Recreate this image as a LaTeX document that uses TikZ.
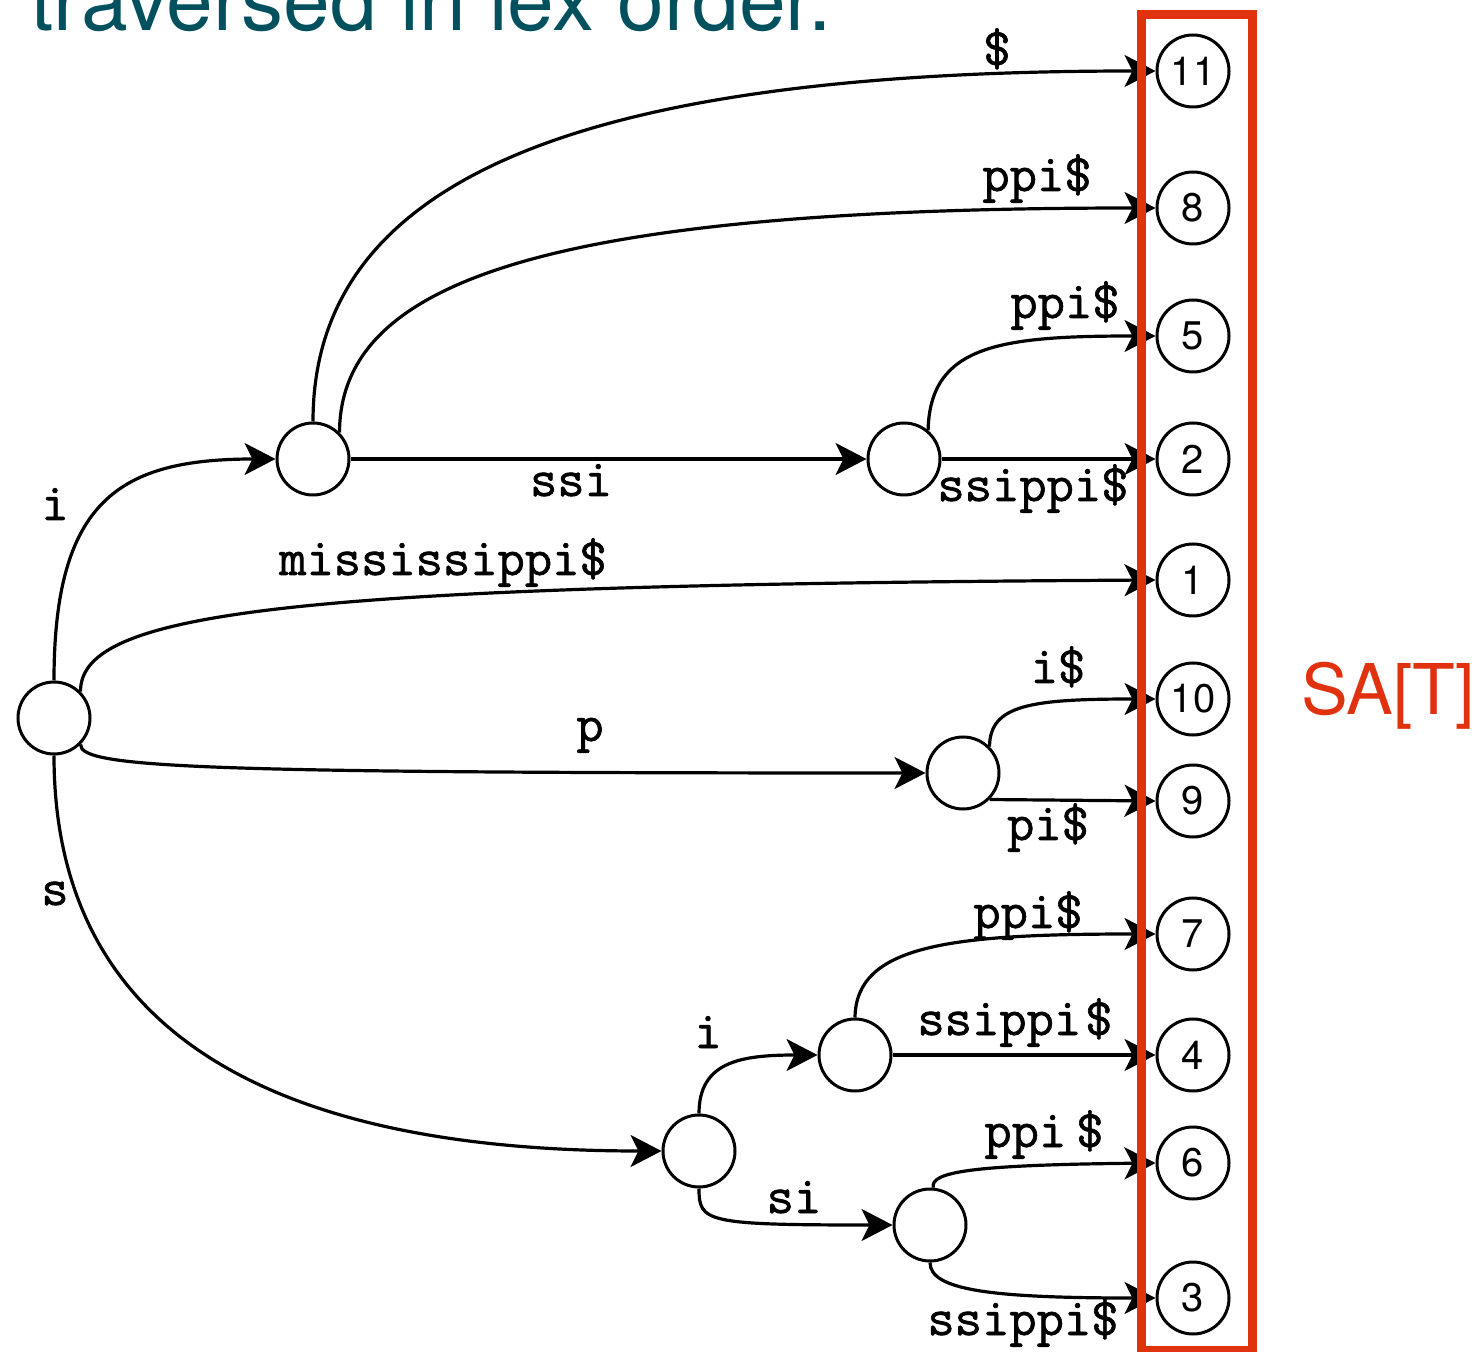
\documentclass[tikz,border=0pt]{standalone}
\usepackage{fontspec}
\newfontfamily\heros{TeX Gyre Heros}
\newfontfamily\lbltt[FakeBold=1.2]{Latin Modern Mono}
\usetikzlibrary{arrows.meta}
\definecolor{sared}{RGB}{224,50,14}
\definecolor{titleteal}{RGB}{0,80,94}
\tikzset{
  inode/.style={circle, draw, line width=1.5pt, minimum size=36pt, inner sep=0pt},
  leaf/.style={circle, draw, line width=1.5pt, minimum size=36pt, inner sep=0pt, font=\heros\fontsize{20pt}{24pt}\selectfont},
  edge/.style={line width=1.6pt, -{Stealth[length=15.5pt,width=16pt,inset=4pt]}},
  lbl/.style={anchor=base, inner sep=0pt, font=\lbltt\fontsize{26.5pt}{30pt}\selectfont},
}
\begin{document}
\begin{tikzpicture}[x=0.5pt,y=-0.5pt]
\useasboundingbox (0,0) rectangle (1479,1352);
\clip (0,0) rectangle (1479,1352);
\node[anchor=base west, inner sep=0pt, text=titleteal, font=\heros\fontsize{42pt}{50pt}\selectfont] (title) at (30,31) {traversed in lex order.};

% internal nodes
\node[inode] (R) at (54,718) {};
\node[inode] (A) at (313,459) {};
\node[inode] (B) at (904,459) {};
\node[inode] (P) at (963,773) {};
\node[inode] (S) at (699,1151) {};
\node[inode] (SI) at (855,1055) {};
\node[inode] (SS) at (930,1225) {};

% leaves
\node[leaf] (L11) at (1193,71) {11};
\node[leaf] (L8) at (1193,208) {8};
\node[leaf] (L5) at (1193,336) {5};
\node[leaf] (L2) at (1193,459) {2};
\node[leaf] (L1) at (1193,580) {1};
\node[leaf] (L10) at (1193,699) {10};
\node[leaf] (L9) at (1193,801) {9};
\node[leaf] (L7) at (1193,934) {7};
\node[leaf] (L4) at (1193,1055) {4};
\node[leaf] (L6) at (1193,1163) {6};
\node[leaf] (L3) at (1193,1298) {3};

% edges
\draw[edge] (R.north) .. controls (54,500) and (120,459) .. (A.west);
\draw[edge] (A.north) .. controls (313,170) and (600,71) .. (L11.west);
\draw[edge] (A.45) .. controls (340,280) and (550,208) .. (L8.west);
\draw[edge] (A.east) -- (B.west);
\draw[edge] (B.50) .. controls (930,345) and (1000,336) .. (L5.west);
\draw[edge] (B.east) -- (L2.west);
\draw[edge] (R.45) .. controls (80,610) and (300,585) .. (L1.west);
\draw[edge] (R.-45) .. controls (80,768) and (200,773) .. (P.west);
\draw[edge] (P.45) .. controls (990,705) and (1030,699) .. (L10.west);
\draw[edge] (P.-45) -- (L9.west);
\draw[edge] (R.south) .. controls (54,1050) and (300,1151) .. (S.west);
\draw[edge] (S.north) .. controls (699,1062) and (740,1055) .. (SI.west);
\draw[edge] (S.south) .. controls (699,1222) and (705,1225) .. (SS.west);
\draw[edge] (SI.north) .. controls (856,945) and (950,934) .. (L7.west);
\draw[edge] (SI.east) -- (L4.west);
\draw[edge] (SS.85) .. controls (930,1172) and (970,1165) .. (L6.west);
\draw[edge] (SS.south) .. controls (930,1290) and (990,1298) .. (L3.west);

% edge labels
\node[lbl] (l11) at (997,65) {\$};
\node[lbl] (l8) at (1037,191) {ppi\$};
\node[lbl] (lssi) at (571,496) {ssi};
\node[lbl] (l5) at (1065,318) {ppi\$};
\node[lbl] (l2) at (1033,501) {ssippi\$};
\node[lbl] (li) at (55,520) {i};
\node[lbl] (l1) at (443,575) {mississippi\$};
\node[lbl] (lp) at (590,741) {p};
\node[lbl] (l10) at (1058,683) {i\$};
\node[lbl] (l9) at (1048,840) {pi\$};
\node[lbl] (ls) at (55,905) {s};
\node[lbl] (l7) at (1028,928) {ppi\$};
\node[lbl] (l4) at (1015,1035) {ssippi\hspace{2pt}\$};
\node[lbl] (lsii) at (708,1048) {i};
\node[lbl] (l6) at (1044,1147) {ppi\hspace{5pt}\$};
\node[lbl] (lsi) at (794,1213) {si};
\node[lbl] (l3) at (1023,1335) {ssippi\$};

% suffix array frame
\draw[sared, line width=4.5pt] (1141.5,15) rectangle (1252,1350);
\node[anchor=base, inner sep=0pt, text=sared, font=\heros\fontsize{35pt}{40pt}\selectfont] (sat) at (1388,715) {SA[T]};
\end{tikzpicture}
\end{document}
